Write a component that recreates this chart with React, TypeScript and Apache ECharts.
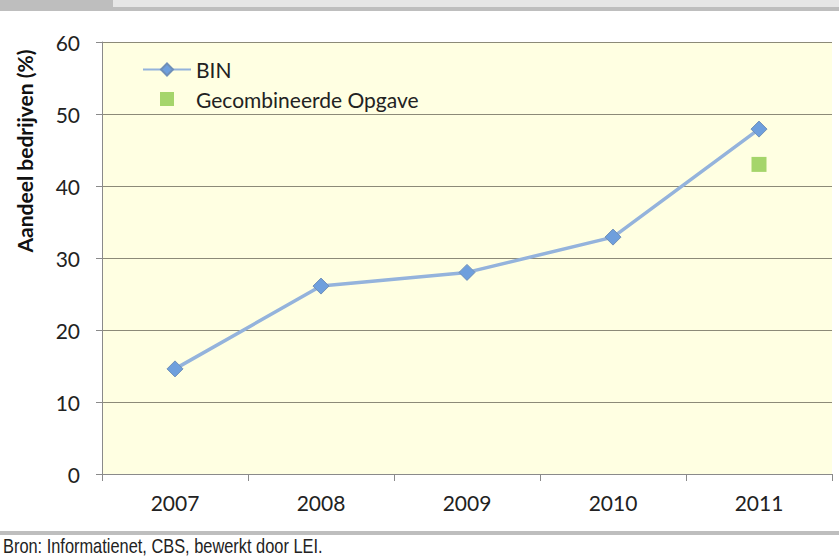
import React, { useEffect, useRef } from "react";
import * as echarts from "echarts";

// Share of farms per year
const years = ["2007", "2008", "2009", "2010", "2011"];
const binValues = [14.6, 26.1, 28.0, 32.9, 47.9];
const gecombineerdeValues: (number | null)[] = [null, null, null, null, 43.0];
const yTicks = { min: 0, max: 60, interval: 10 };

const yAxisTitle = "Aandeel bedrijven (%)";
const sourceNote = "Bron: Informatienet, CBS, bewerkt door LEI.";

const FONT = "Lato, 'Open Sans', sans-serif";

// square legend marker centred in a 48-wide slot
const SQUARE_ICON = "path://M0,0 M48,15 M17,0 L31,0 L31,14 L17,14 Z";

export default function App() {
  const ref = useRef<HTMLDivElement>(null);

  useEffect(() => {
    if (!ref.current) return;
    const chart = echarts.init(ref.current, undefined, { renderer: "svg" });
    chart.setOption({
      animation: false,
      backgroundColor: "#ffffff",
      textStyle: { fontFamily: FONT },
      grid: {
        left: 102,
        right: 7,
        top: 42,
        bottom: 86,
        show: true,
        backgroundColor: "#FFFFE2",
        borderWidth: 0,
      },
      legend: {
        orient: "vertical",
        left: 137,
        top: 54,
        itemWidth: 48,
        itemHeight: 15,
        itemGap: 9,
        textStyle: { fontFamily: FONT, fontSize: 21, color: "#222" },
        data: [{ name: "BIN" }, { name: "Gecombineerde Opgave", icon: SQUARE_ICON }],
      },
      xAxis: {
        type: "category",
        data: years,
        boundaryGap: true,
        axisLine: { lineStyle: { color: "#8a8a8a", width: 1 } },
        axisTick: { show: true, length: 7, lineStyle: { color: "#8a8a8a" } },
        axisLabel: { fontFamily: FONT, fontSize: 21, color: "#222", margin: 18 },
      },
      yAxis: {
        type: "value",
        min: yTicks.min,
        max: yTicks.max,
        interval: yTicks.interval,
        axisLine: { show: true, lineStyle: { color: "#8a8a8a", width: 1 } },
        axisTick: { show: true, length: 6, lineStyle: { color: "#8a8a8a" } },
        axisLabel: { fontFamily: FONT, fontSize: 21, color: "#222", margin: 22 },
        splitLine: { lineStyle: { color: "#8c8a78", width: 1.2 } },
      },
      series: [
        {
          name: "BIN",
          type: "line",
          data: binValues,
          symbol: "diamond",
          symbolSize: 16,
          lineStyle: { color: "#94B3DC", width: 3.5 },
          itemStyle: { color: "#6E9FDD", borderColor: "#6F8FB8", borderWidth: 1 },
          z: 3,
        },
        {
          name: "Gecombineerde Opgave",
          type: "scatter",
          data: gecombineerdeValues,
          symbol: "rect",
          symbolSize: 15,
          itemStyle: { color: "#8FCB4E" },
          z: 4,
        },
      ],
      graphic: [
        // header band
        { type: "rect", left: 0, top: 0, shape: { width: 839, height: 11 }, style: { fill: "#BEBEBE" } },
        { type: "rect", left: 113, top: 0, shape: { width: 726, height: 7 }, style: { fill: "#E6E6E6" } },
        // footer rule
        { type: "rect", left: 0, top: 531, shape: { width: 839, height: 4 }, style: { fill: "#BEBEBE" } },
        {
          type: "text",
          x: 3,
          y: 536,
          scaleX: 0.82,
          style: {
            text: sourceNote,
            font: "20px 'Liberation Sans', Arial, sans-serif",
            fill: "#222",
          },
        },
        {
          type: "text",
          x: 24,
          y: 151,
          rotation: Math.PI / 2,
          style: {
            text: yAxisTitle,
            font: `bold 21px ${FONT}`,
            fill: "#111",
            align: "center",
            verticalAlign: "middle",
          },
        },
      ],
    });
    return () => chart.dispose();
  }, []);

  return (
    <div
      ref={ref}
      style={{ position: "absolute", left: 0, top: 0, width: 839, height: 560 }}
    />
  );
}
